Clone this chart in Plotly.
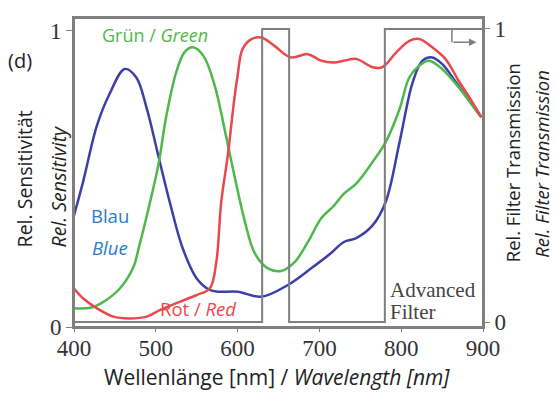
import plotly.graph_objects as go

# ---- data ----
blue_wl = [400, 411, 428, 444, 462, 476, 489, 503, 517, 533, 550, 566, 576, 600, 629, 661, 690, 714, 730,
           745, 765, 781, 798, 814, 826, 838, 850, 867, 883, 898]
blue_val = [0.377, 0.489, 0.68, 0.79, 0.871, 0.843, 0.737, 0.579, 0.422, 0.265, 0.164, 0.125, 0.119, 0.119,
            0.102, 0.141, 0.198, 0.249, 0.287, 0.30, 0.343, 0.422, 0.624, 0.826, 0.899, 0.91, 0.888, 0.826,
            0.764, 0.708]

green_wl = [400, 420, 436, 456, 472, 480, 493, 503, 513, 525, 535, 545, 558, 572, 584, 596, 609, 621, 637,
            653, 670, 686, 702, 718, 730, 745, 765, 781, 798, 810, 822, 834, 850, 867, 883, 898]
green_val = [0.063, 0.065, 0.085, 0.13, 0.198, 0.276, 0.422, 0.545, 0.714, 0.86, 0.927, 0.944, 0.916, 0.815,
             0.669, 0.512, 0.355, 0.249, 0.198, 0.189, 0.22, 0.287, 0.366, 0.41, 0.45, 0.484, 0.557, 0.624,
             0.736, 0.843, 0.882, 0.899, 0.871, 0.82, 0.764, 0.708]

red_wl = [400, 411, 428, 448, 468, 489, 505, 529, 550, 566, 574, 580, 588, 596, 600, 606, 617, 629, 645,
          665, 686, 702, 718, 730, 745, 765, 777, 794, 810, 822, 838, 854, 870, 887, 898]
red_val = [0.13, 0.097, 0.063, 0.035, 0.029, 0.035, 0.057, 0.085, 0.108, 0.13, 0.22, 0.422, 0.579, 0.77,
           0.848, 0.938, 0.972, 0.977, 0.949, 0.91, 0.921, 0.899, 0.893, 0.899, 0.905, 0.877, 0.877, 0.927,
           0.966, 0.972, 0.944, 0.905, 0.832, 0.759, 0.708]

filter_wl = [400, 630, 630, 663, 663, 780, 780, 900]
filter_val = [0, 0, 1, 1, 0, 0, 1, 1]

x_ticks = [400, 500, 600, 700, 800, 900]
y_ticks = [0, 1]

BLUE = "#3d3fa8"
GREEN = "#4fb84a"
RED = "#e9484d"
GRAY = "#7f7f7f"
LABEL_BLUE = "#2a7ccc"
SANS = "Open Sans"
SERIF = "Liberation Serif"
TXT = "#222222"

fig = go.Figure()
fig.add_trace(go.Scatter(x=blue_wl, y=blue_val, mode="lines", line=dict(color=BLUE, width=2.5, shape="spline"),
                         showlegend=False, hoverinfo="skip"))
fig.add_trace(go.Scatter(x=green_wl, y=green_val, mode="lines", line=dict(color=GREEN, width=2.5, shape="spline"),
                         showlegend=False, hoverinfo="skip"))
fig.add_trace(go.Scatter(x=red_wl, y=red_val, mode="lines", line=dict(color=RED, width=2.5, shape="spline"),
                         showlegend=False, hoverinfo="skip"))
fig.add_trace(go.Scatter(x=filter_wl, y=filter_val, mode="lines", yaxis="y2",
                         line=dict(color=GRAY, width=2), showlegend=False, hoverinfo="skip"))

fig.update_layout(
    width=556, height=394,
    margin=dict(l=74, r=73, t=18, b=67),
    paper_bgcolor="white", plot_bgcolor="white",
    xaxis=dict(range=[400, 900], tickvals=x_ticks, ticktext=[str(v) for v in x_ticks],
               showline=True, linecolor=GRAY, linewidth=2, mirror=True,
               ticks="outside", ticklen=3, tickcolor=GRAY, showgrid=False, zeroline=False,
               ticklabelstandoff=-4,
               tickfont=dict(family=SERIF, size=23, color="#333333")),
    yaxis=dict(range=[0, 1.043], tickvals=y_ticks, ticktext=["0", "1"],
               showline=True, linecolor=GRAY, linewidth=2, mirror=False,
               ticks="outside", ticklen=6, tickcolor=GRAY, showgrid=False, zeroline=False,
               tickfont=dict(family=SERIF, size=23, color="#333333")),
    yaxis2=dict(range=[-0.017, 1.0375], tickvals=y_ticks, ticktext=["0", "1"], overlaying="y", side="right",
                showline=True, linecolor=GRAY, linewidth=2,
                ticks="outside", ticklen=5, tickcolor=GRAY, showgrid=False, zeroline=False,
                tickfont=dict(family=SERIF, size=23, color="#333333")),
)

# frame around the plot area
fig.add_shape(type="rect", xref="paper", yref="paper", x0=0, x1=1, y0=0, y1=1,
              line=dict(color=GRAY, width=2))

# small bent arrow pointing to the right axis
fig.add_shape(type="line", xref="x", yref="y2", x0=862, x1=862, y0=1.0, y1=0.955,
              line=dict(color=GRAY, width=1.5))
fig.add_annotation(x=892, y=0.955, xref="x", yref="y2", ax=862, ay=0.955, axref="x", ayref="y2",
                   text="", showarrow=True, arrowhead=2, arrowsize=1, arrowwidth=1.5, arrowcolor=GRAY)

C = dict(xanchor="center", yanchor="middle", showarrow=False)
ann = []
ann.append(dict(text="(d)", xref="paper", yref="paper", x=-0.132, y=0.864,
                font=dict(family=SANS, size=20, color=TXT), **C))
ann.append(dict(text="Rel. Sensitivität", xref="paper", yref="paper", x=-0.122, y=0.478, textangle=-90,
                font=dict(family=SANS, size=19.5, color=TXT), **C))
ann.append(dict(text="<i>Rel. Sensitivity</i>", xref="paper", yref="paper", x=-0.039, y=0.455, textangle=-90,
                font=dict(family=SANS, size=19.5, color=TXT), **C))
ann.append(dict(text="Rel. Filter Transmission", xref="paper", yref="paper", x=1.071, y=0.53, textangle=-90,
                font=dict(family=SANS, size=18.5, color=TXT), **C))
ann.append(dict(text="<i>Rel. Filter Transmission</i>", xref="paper", yref="paper", x=1.143, y=0.53,
                textangle=-90, font=dict(family=SANS, size=18.5, color=TXT), **C))
ann.append(dict(text="Wellenlänge [nm] / <i>Wavelength [nm]</i>", xref="paper", yref="paper", x=0.497,
                y=-0.163, font=dict(family=SANS, size=21, color=TXT), **C))
ann.append(dict(text="Grün / <i>Green</i>", x=499, y=0.985, xref="x", yref="y",
                font=dict(family=SANS, size=18, color=GREEN), **C))
ann.append(dict(text="Blau", x=444, y=0.378, xref="x", yref="y",
                font=dict(family=SANS, size=18.5, color=LABEL_BLUE), **C))
ann.append(dict(text="<i>Blue</i>", x=444, y=0.27, xref="x", yref="y",
                font=dict(family=SANS, size=18.5, color=LABEL_BLUE), **C))
ann.append(dict(text="Rot / <i>Red</i>", x=552, y=0.064, xref="x", yref="y",
                font=dict(family=SANS, size=18.5, color=RED), **C))
ann.append(dict(text="Advanced", x=784, y=0.125, xref="x", yref="y", showarrow=False,
                xanchor="left", yanchor="middle", font=dict(family=SERIF, size=21, color="#444444")))
ann.append(dict(text="Filter", x=784, y=0.05, xref="x", yref="y", showarrow=False,
                xanchor="left", yanchor="middle", font=dict(family=SERIF, size=21, color="#444444")))
for a in ann:
    fig.add_annotation(**a)

# remove the browser's default 8px body margin so the figure fills the window exactly
fig.write_html("out.html", config={"displayModeBar": False},
               post_script="document.body.style.margin='0';document.body.style.overflow='hidden';")
